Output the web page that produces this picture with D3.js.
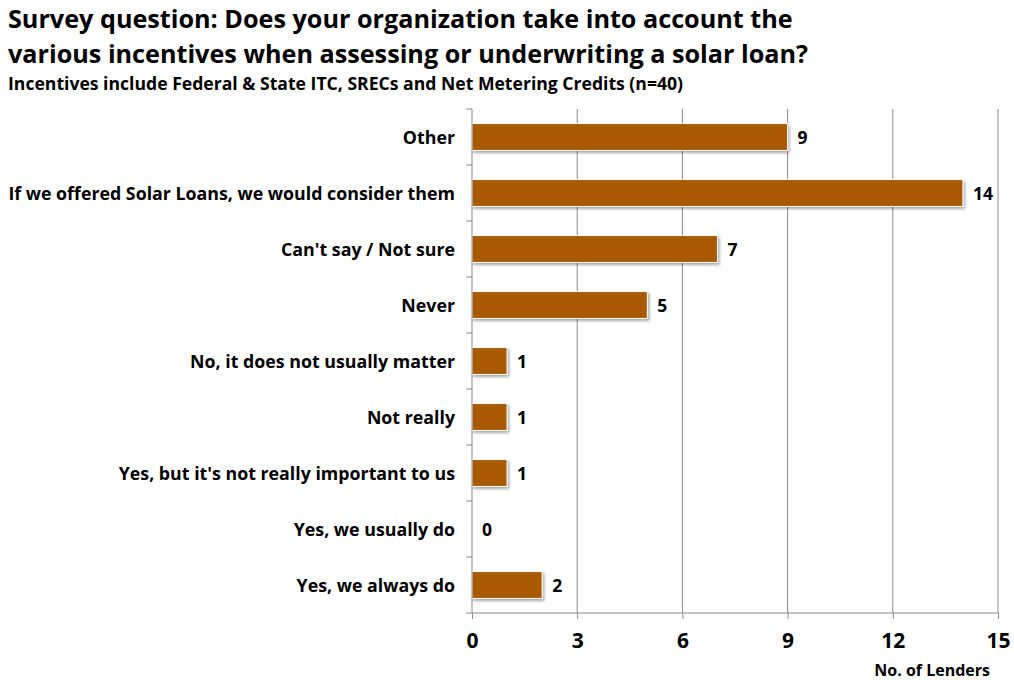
<!DOCTYPE html>
<html>
<head>
<meta charset="utf-8">
<script src="https://cdn.jsdelivr.net/npm/d3@7"></script>
<style>
  body { margin: 0; background: #fff; }
  svg text { font-family: "Open Sans", sans-serif; font-weight: bold; fill: #000; }
  .grid line { stroke: #8c8c8c; stroke-width: 1; }
  .axis path, .axis line { stroke: #8c8c8c; }
</style>
</head>
<body>
<svg id="chart"></svg>
<script>
// data
const categories = [
  'Other',
  'If we offered Solar Loans, we would consider them',
  "Can't say / Not sure",
  'Never',
  'No, it does not usually matter',
  'Not really',
  "Yes, but it's not really important to us",
  'Yes, we usually do',
  'Yes, we always do'
]
const lenders = [9, 14, 7, 5, 1, 1, 1, 0, 2]
const xTicks = [0, 3, 6, 9, 12, 15]

const titleLines = [
  'Survey question: Does your organization take into account the',
  'various incentives when assessing or underwriting a solar loan?'
]
const subtitle = 'Incentives include Federal & State ITC, SRECs and Net Metering Credits (n=40)'
const xTitle = 'No. of Lenders'

const width = 1014, height = 680
const margin = {top: 109, right: 16, bottom: 67, left: 472}
const innerW = width - margin.left - margin.right
const innerH = height - margin.top - margin.bottom

const svg = d3.select('#chart')
  .attr('width', width)
  .attr('height', height)

const defs = svg.append('defs')
const shadow = defs.append('filter').attr('id', 'shadow')
  .attr('x', '-5%').attr('y', '-20%').attr('width', '115%').attr('height', '160%')
shadow.append('feDropShadow')
  .attr('dx', 1.5).attr('dy', 2).attr('stdDeviation', 1.5)
  .attr('flood-color', '#000').attr('flood-opacity', 0.35)

// titles
svg.selectAll('.title')
  .data(titleLines)
  .join('text')
    .attr('class', 'title')
    .attr('x', 8)
    .attr('y', (d, i) => 28 + i * 35)
    .style('font-size', '25.2px')
    .text(d => d)

svg.append('text')
  .attr('x', 8)
  .attr('y', 90)
  .style('font-size', '17.6px')
  .text(subtitle)

const chart = svg.append('g')
  .attr('transform', `translate(${margin.left},${margin.top})`)

const x = d3.scaleLinear()
  .domain([0, 15])
  .range([0, innerW])

const y = d3.scaleBand()
  .domain(categories)
  .range([0, innerH])
  .paddingInner(0.52)
  .paddingOuter(0.26)

// vertical gridlines
chart.append('g')
  .attr('class', 'grid')
  .selectAll('line')
  .data(xTicks.slice(1))
  .join('line')
    .attr('x1', d => x(d)).attr('x2', d => x(d))
    .attr('y1', 0).attr('y2', innerH)

// bars
chart.selectAll('.bar')
  .data(lenders)
  .join('rect')
    .attr('class', 'bar')
    .attr('x', x(0))
    .attr('y', (d, i) => y(categories[i]))
    .attr('width', d => x(d) - x(0))
    .attr('height', y.bandwidth())
    .attr('fill', '#a95a00')
    .attr('stroke', '#fff')
    .attr('stroke-width', 1)
    .attr('filter', 'url(#shadow)')

// value labels
chart.selectAll('.val')
  .data(lenders)
  .join('text')
    .attr('class', 'val')
    .attr('x', d => x(d) + 10)
    .attr('y', (d, i) => y(categories[i]) + y.bandwidth() / 2)
    .attr('dy', '0.42em')
    .style('font-size', '17.5px')
    .text(d => d)

// x axis
const xAxis = d3.axisBottom(x)
  .tickValues(xTicks)
  .tickSize(6)
  .tickPadding(14)

chart.append('g')
  .attr('class', 'axis x-axis')
  .attr('transform', `translate(0,${innerH})`)
  .call(xAxis)
  .call(g => g.select('.domain').attr('d', `M0,0H${innerW}`))
  .call(g => g.selectAll('.tick text').style('font-size', '21px').attr('fill', '#000'))

// y axis: ticks between categories
const yEdges = d3.range(categories.length + 1).map(i => i * innerH / categories.length)
const yAxisG = chart.append('g').attr('class', 'axis y-axis')
yAxisG.append('line')
  .attr('x1', 0).attr('x2', 0).attr('y1', 0).attr('y2', innerH)
yAxisG.selectAll('.ytick')
  .data(yEdges)
  .join('line')
    .attr('class', 'ytick')
    .attr('x1', -6).attr('x2', 0)
    .attr('y1', d => d).attr('y2', d => d)

chart.selectAll('.cat')
  .data(categories)
  .join('text')
    .attr('class', 'cat')
    .attr('x', -17)
    .attr('y', d => y(d) + y.bandwidth() / 2)
    .attr('dy', '0.42em')
    .attr('text-anchor', 'end')
    .style('font-size', '17.8px')
    .text(d => d)

svg.append('text')
  .attr('x', 990)
  .attr('y', 676)
  .attr('text-anchor', 'end')
  .style('font-size', '16px')
  .text(xTitle)
</script>
</body>
</html>
